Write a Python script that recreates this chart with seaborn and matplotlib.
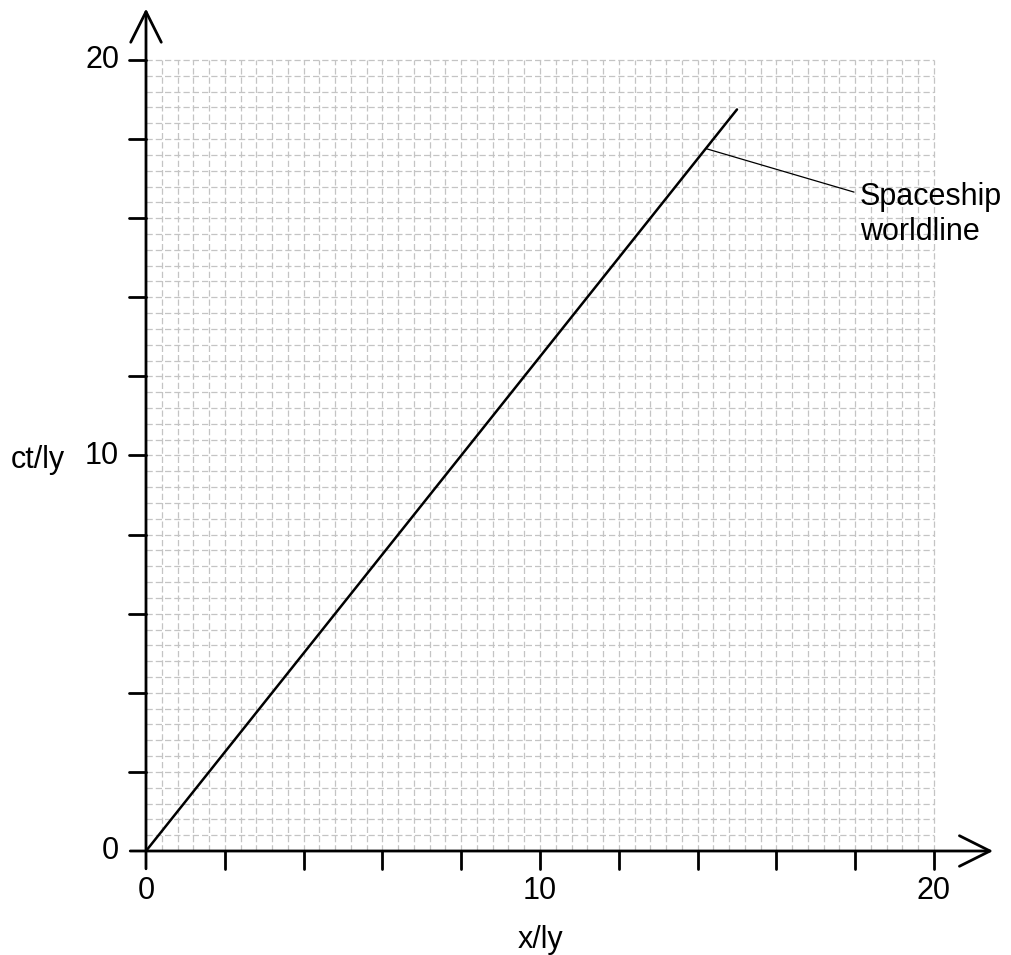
import matplotlib
matplotlib.use("Agg")
import matplotlib.pyplot as plt
import seaborn as sns
import numpy as np
import pandas as pd

# spaceship worldline (v = 0.8c)
x_ly = [0, 15]
ct_ly = [0, 18.75]
tick_major = [0, 10, 20]
tick_minor = [0, 2, 4, 6, 8, 10, 12, 14, 16, 18, 20]
label_text = "Spaceship\nworldline"

sns.set_style("white")
plt.rcParams["font.family"] = ["Liberation Sans", "DejaVu Sans"]
plt.rcParams["text.color"] = "black"

fig = plt.figure(figsize=(10.11, 9.55), dpi=100)
ax = fig.add_axes([0, 0, 1, 1])
ax.set_xlim(-146 / 39.4, (1011 - 146) / 39.4)
ax.set_ylim(-104 / 39.55, (955 - 104) / 39.55)
ax.axis("off")

# dashed grid paper
grid = np.arange(0, 20.01, 0.4)
ax.vlines(grid[1:], 0, 20, colors="#c4c4c4", linestyles=(0, (5, 2.4)), linewidth=0.9, zorder=1)
ax.hlines(grid[1:], 0, 20, colors="#c4c4c4", linestyles=(0, (5, 2.4)), linewidth=0.9, zorder=1)

# axes with open arrowheads
arrow = dict(arrowstyle="->,head_length=2.2,head_width=1.1", color="black", lw=2.0,
             shrinkA=0, shrinkB=0)
ax.annotate("", xy=(21.5, 0), xytext=(-0.4, 0), arrowprops=arrow, zorder=3)
ax.annotate("", xy=(0, 21.3), xytext=(0, -0.45), arrowprops=arrow, zorder=3)

# ticks
for t in tick_minor[1:]:
    ax.plot([t, t], [0, -0.45], color="black", lw=2.0, zorder=3)
    ax.plot([0, -0.43], [t, t], color="black", lw=2.0, zorder=3)

for t in tick_major:
    ax.text(t, -1.0, str(t), ha="center", va="center", fontsize=22)
    ax.text(-0.68, t, str(t), ha="right", va="center", fontsize=22)

ax.text(10, -2.25, "x/ly", ha="center", va="center", fontsize=22)
ax.text(-2.74, 9.88, "ct/ly", ha="center", va="center", fontsize=22)

df = pd.DataFrame({"x": x_ly, "ct": ct_ly})
sns.lineplot(data=df, x="x", y="ct", color="black", lw=1.8, ax=ax, zorder=4)

# label with leader line
ax.plot([14.21, 17.97], [17.76, 16.66], color="black", lw=0.9, zorder=4)
ax.text(18.12, 16.1, label_text, ha="left", va="center", fontsize=22, linespacing=1.2)

fig.savefig("out.png", dpi=100)
